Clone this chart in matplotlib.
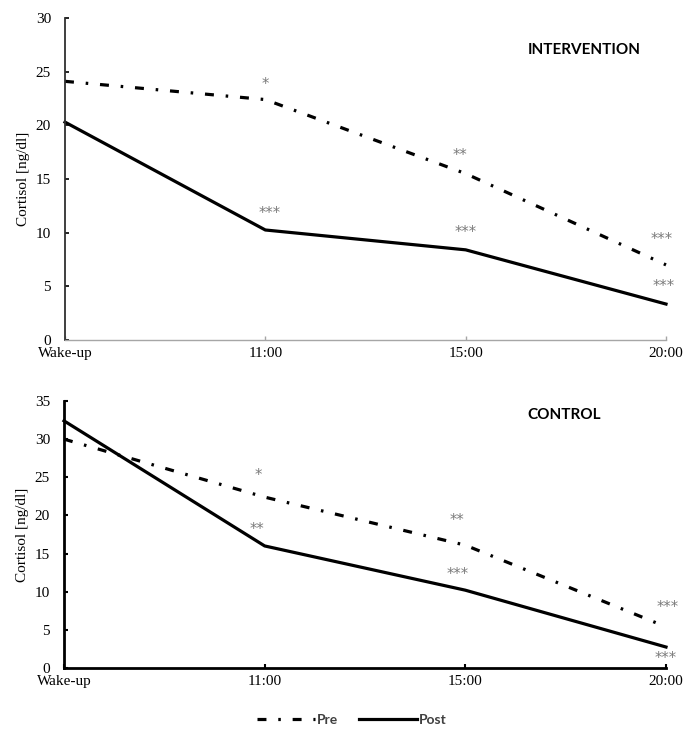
import numpy as np
import matplotlib
matplotlib.use("Agg")
import matplotlib.pyplot as plt

# Data
times = ["Wake-up", "11:00", "15:00", "20:00"]

int_pre = [24.1, 22.4, 15.5, 7.0]
int_post = [20.3, 10.25, 8.4, 3.35]

con_pre = [30.0, 22.4, 16.1, 5.4]
con_post = [32.4, 16.0, 10.2, 2.75]

# significance marks: (x, y, text)
int_marks = [(1.0, 23.8, "*"), (1.02, 11.8, "***"), (1.97, 17.2, "**"),
             (2.0, 10.0, "***"), (2.98, 9.4, "***"), (2.99, 4.95, "***")]
con_marks = [(0.97, 25.2, "*"), (0.96, 18.2, "**"), (1.96, 19.4, "**"),
             (1.96, 12.2, "***"), (3.01, 7.9, "***"), (3.0, 1.2, "***")]

serif = "Liberation Serif"
pre_style = (0, (2.8, 3.7, 0.8, 3.7))
lw = 2.3

fig = plt.figure(figsize=(6.83, 7.29), dpi=100)
ax1 = fig.add_axes([65 / 683, 1 - 340 / 729, 601 / 683, 322 / 729])
ax2 = fig.add_axes([64 / 683, 1 - 668 / 729, 602 / 683, 267 / 729])

x = np.arange(len(times))


def style_axes(ax, ymax, title, title_y, marks, pre, post, thick):
    ax.plot(x, pre, color="black", lw=lw, linestyle=pre_style, clip_on=False,
            label="Pre", dash_capstyle="butt")
    ax.plot(x, post, color="black", lw=lw, clip_on=False, label="Post")
    for mx, my, txt in marks:
        ax.text(mx, my, txt, ha="center", va="center", fontsize=10.5,
                color="#7a7a7a", family="DejaVu Sans")
    ax.text(2.31, title_y, title, ha="left", va="center", fontsize=11,
            fontweight="bold", family="Lato")
    ax.set_xlim(0, 3)
    ax.set_ylim(0, ymax)
    ax.set_yticks(np.arange(0, ymax + 1, 5))
    ax.set_xticks(x)
    ax.set_xticklabels(times)
    for lab in ax.get_xticklabels() + ax.get_yticklabels():
        lab.set_family(serif)
        lab.set_fontsize(11)
    ax.tick_params(axis="y", direction="in", length=3, pad=10,
                   width=1.5 if thick else 1.2)
    ax.tick_params(axis="x", direction="in", length=3, pad=5,
                   width=1.5 if thick else 1.0,
                   color="black" if thick else "#a6a6a6")
    ax.set_ylabel("Cortisol [ng/dl]", family=serif, fontsize=11, labelpad=4)
    ax.spines["top"].set_visible(False)
    ax.spines["right"].set_visible(False)
    if thick:
        ax.spines["left"].set_linewidth(2.0)
        ax.spines["bottom"].set_linewidth(2.0)
    else:
        ax.spines["left"].set_linewidth(1.3)
        ax.spines["left"].set_color("#303030")
        ax.spines["bottom"].set_linewidth(1.0)
        ax.spines["bottom"].set_color("#a6a6a6")


style_axes(ax1, 30, "INTERVENTION", 27.0, int_marks, int_pre, int_post, False)
style_axes(ax2, 35, "CONTROL", 33.2, con_marks, con_pre, con_post, True)

handles, labels = ax2.get_legend_handles_labels()
leg = fig.legend(handles, labels, loc="center", bbox_to_anchor=(0.515, 1 - 720 / 729),
                 ncol=2, frameon=False, handlelength=4.2, columnspacing=1.5,
                 handletextpad=0.1, prop={"family": "Lato", "weight": "bold", "size": 10})
for t in leg.get_texts():
    t.set_color("#404040")

fig.savefig("out.png", dpi=100)
